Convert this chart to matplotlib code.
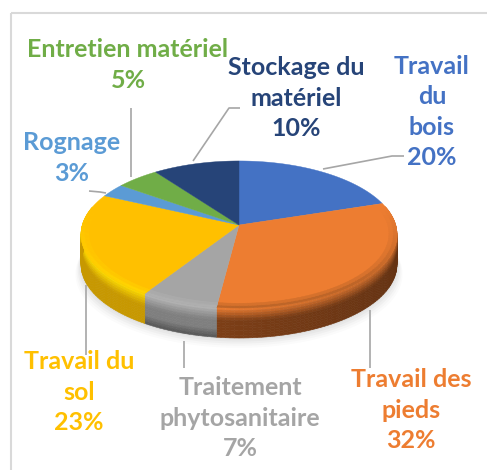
import numpy as np
import matplotlib.pyplot as plt
from matplotlib.colors import to_rgb
from matplotlib.patches import Rectangle

labels = ['Travail\ndu\nbois', 'Travail des\npieds', 'Traitement\nphytosanitaire', 'Travail du\nsol',
          'Rognage', 'Entretien matériel', 'Stockage du\nmatériel']
values = [20, 32, 7, 23, 3, 5, 10]
colors = ['#4472c4', '#ed7d31', '#a5a5a5', '#ffc000', '#5b9bd5', '#70ad47', '#264478']
rim_colors = ['#4472c4', '#ed7d31', '#b5b5b5', '#ffdc00', '#5b9bd5', '#70ad47', '#264478']
wall_colors = ['#2a4a85', '#7a3d16', '#7f7f7f', '#c79800', '#3a6f9f', '#4a7530', '#182c50']

# where the labels sit (px) and their leader lines
label_pos = [(432, 112), (411, 410), (240, 418), (79, 392), (72, 158), (128, 65), (296, 98)]
leaders = [[(323, 169), (392, 156), (404, 156)],
           [(370, 310), (370, 368)],
           [(184, 341), (184, 368)],
           [(86, 285), (86, 355)],
           [(106, 193), (100, 192), (89, 191)],
           [(131, 177), (131, 108)],
           [(193, 161), (229, 108), (240, 108)]]

plt.rcParams['font.family'] = ['Lato', 'DejaVu Sans']

fig = plt.figure(figsize=(4.87, 4.70), dpi=100)
ax = fig.add_axes([0, 0, 1, 1])
ax.set_xlim(0, 487)
ax.set_ylim(470, 0)
ax.axis('off')

# disc seen in perspective
cx, cy, rx, ry, k, depth = 239, 225, 156.7, 72.3, 0.129, 30


def project(angle, r=1.0):
    u = r * np.sin(angle)
    v = r * np.cos(angle)
    w = 1 + k * v
    return cx + rx * u / w, cy - ry * v / w


def lerp(c0, c1, t):
    return tuple(a + (b - a) * t for a, b in zip(to_rgb(c0), to_rgb(c1)))


ax.add_patch(Rectangle((11, 13), 600, 600, fill=False, ec='#d9d9d9', lw=1.5))

# soft shadow under the pie
full = np.linspace(0, 2 * np.pi, 200)
for grow, alpha in zip([14, 11, 8, 5, 2], [0.03, 0.04, 0.05, 0.06, 0.07]):
    sx, sy = project(full)
    ax.fill(cx + (sx - cx) * (1 + grow / 400), sy + depth + grow * 0.7, color='#808080', alpha=alpha, lw=0)

edges = np.cumsum([0] + values) / sum(values) * 2 * np.pi

# side wall, only the front part shows
bands = np.linspace(0, 1, 13)
for i in range(len(values)):
    n = max(int((edges[i + 1] - edges[i]) * 40), 2)
    angs = np.linspace(edges[i], edges[i + 1], n + 1)
    for a0, a1 in zip(angs[:-1], angs[1:]):
        mid = (a0 + a1) / 2
        if np.cos(mid) > 0.25:
            continue
        x0, y0 = project(a0)
        x1, y1 = project(a1)
        # darker toward the right side, lighter toward the front left
        side = 1 + 0.18 * (-np.sin(mid)) if i == 1 else 1.0
        for t0, t1 in zip(bands[:-1], bands[1:]):
            t = (t0 + t1) / 2
            c = lerp(rim_colors[i], wall_colors[i], min(t / 0.42, 1))
            if i == 2 and t > 0.7:
                c = lerp(c, '#555555', (t - 0.7) / 0.3)
            c = tuple(min(v * side, 1) for v in c)
            ax.fill([x0, x1, x1, x0], [y0 + t0 * depth, y1 + t0 * depth, y1 + t1 * depth, y0 + t1 * depth],
                    color=c, lw=0.4)

# top face, with a bevel toward the rim in the front
for i in range(len(values)):
    angs = np.linspace(edges[i], edges[i + 1], 80)
    px, py = project(angs)
    ax.fill(np.r_[cx, px], np.r_[cy, py], color=colors[i], lw=0.3)
    for a0, a1 in zip(angs[:-1], angs[1:]):
        mid = (a0 + a1) / 2
        front = min(max(-np.cos(mid) + 0.25, 0), 1)
        if front == 0:
            continue
        edge = rim_colors[i] if i != 1 else '#a85a24'
        for r0, r1, f in [(1.0, 0.975, 0.7), (0.975, 0.95, 0.35)]:
            x = [project(a0, r0)[0], project(a1, r0)[0], project(a1, r1)[0], project(a0, r1)[0]]
            y = [project(a0, r0)[1], project(a1, r0)[1], project(a1, r1)[1], project(a0, r1)[1]]
            ax.fill(x, y, color=lerp(colors[i], edge, f * front), lw=0.3)

for line in leaders:
    xs, ys = zip(*line)
    ax.plot(xs, ys, color='#a6a6a6', lw=1.2, solid_capstyle='butt', zorder=5)

for i in range(len(values)):
    ax.text(label_pos[i][0], label_pos[i][1], f'{labels[i]}\n{values[i]}%', color=colors[i], fontsize=18,
            fontweight='bold', ha='center', va='center', linespacing=1.4, zorder=6)

fig.savefig('out.png', dpi=100)
